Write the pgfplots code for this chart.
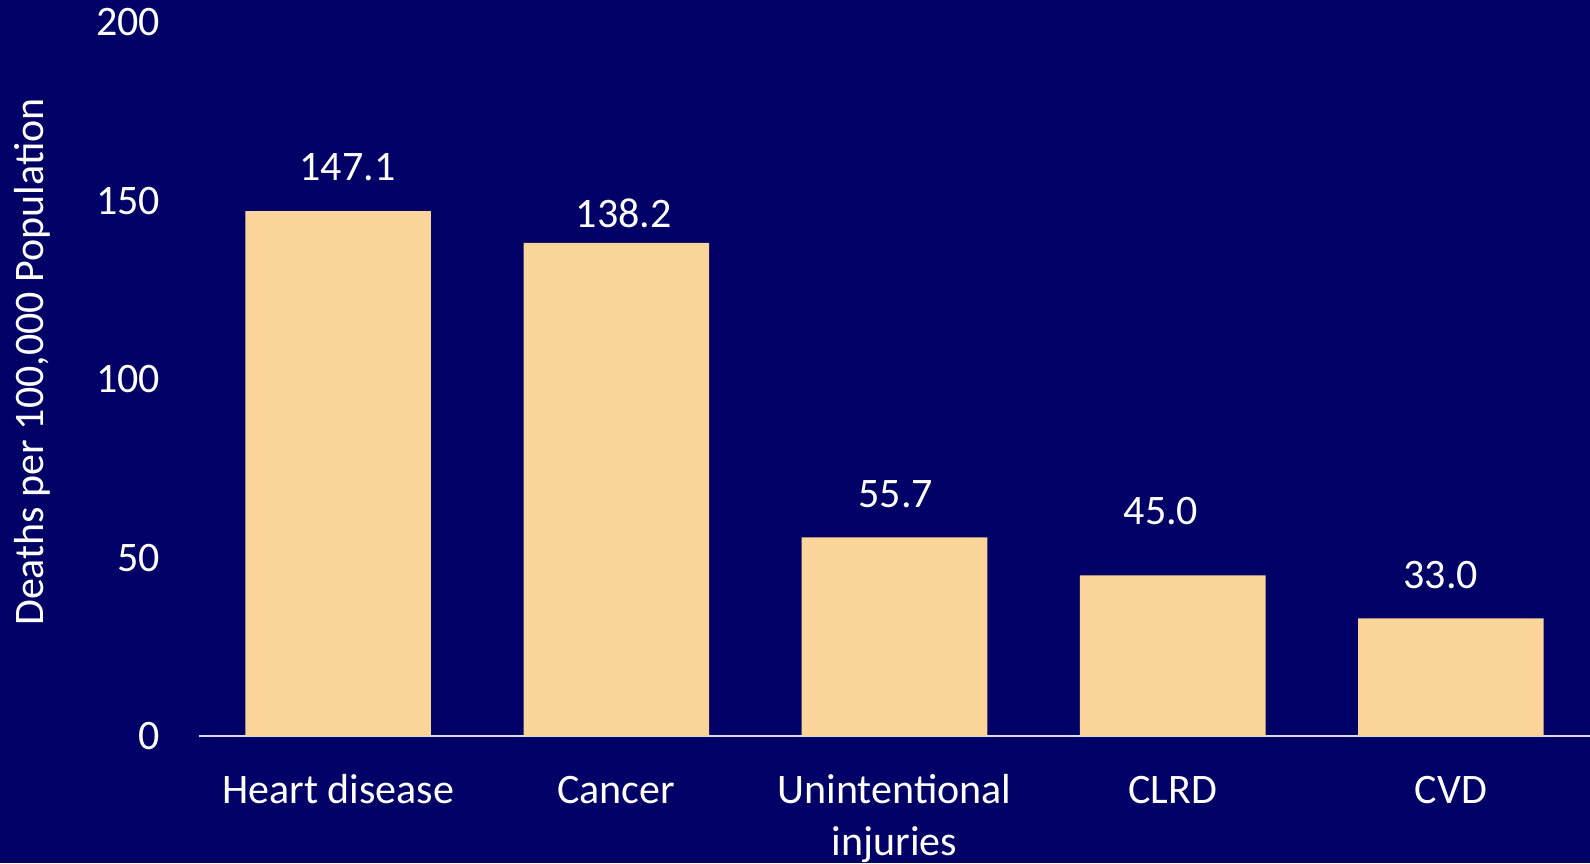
\documentclass[border=0pt]{standalone}
\usepackage{fontspec}
\setmainfont{Carlito}
\usepackage{pgfplots}
\pgfplotsset{compat=1.18}
\definecolor{bg}{RGB}{0,0,102}
\definecolor{barc}{RGB}{252,213,154}
\definecolor{axl}{RGB}{220,220,232}
\begin{document}
\begin{tikzpicture}
\fill[bg] (-99.5pt,-63.5pt) rectangle (695.5pt,368pt);
\begin{axis}[
  at={(0,0)}, anchor=south west,
  scale only axis, width=695.5pt, height=356.8pt,
  xmin=-0.5, xmax=4.5, ymin=0, ymax=200,
  clip=false,
  axis x line*=bottom, axis y line*=left,
  x axis line style={axl, line width=1pt},
  y axis line style={draw=none},
  tick style={draw=none},
  major tick length=0pt,
  xtick={0,1,2,3,4},
  xticklabels={Heart disease, Cancer, {\begin{tabular}[t]{@{}c@{}}Unintentional\\injuries\end{tabular}}, CLRD, CVD},
  ytick={0,50,100,150,200},
  /pgf/number format/assume math mode=true,
  xticklabel style={white, font=\fontsize{21}{26}\selectfont, anchor=base, yshift=-33.5pt},
  yticklabel style={white, font=\fontsize{21}{26}\selectfont, xshift=-16pt},
  ylabel={Deaths per 100,000 Population},
  ylabel style={white, font=\fontsize{21}{26}\selectfont, at={(axis description cs:-0.1121,0.524)}, anchor=base},
]
\addplot[ybar, bar width=92.8pt, fill=barc, draw=none] coordinates {(0,147.1) (1,138.2) (2,55.7) (3,45.0) (4,33.0)};
\addplot[draw=none, mark=none, nodes near coords, point meta=explicit symbolic,
  nodes near coords style={anchor=center, white, font=\fontsize{21}{26}\selectfont}]
  coordinates {(0.034,159.4)[147.1] (1.027,146.6)[138.2] (2.005,67.9)[55.7] (2.958,63.0)[45.0] (3.964,45.1)[33.0]};
\end{axis}
\pgfresetboundingbox
\path[use as bounding box] (-99.5pt,-63.5pt) rectangle (695.5pt,368pt);
\end{tikzpicture}
\end{document}
